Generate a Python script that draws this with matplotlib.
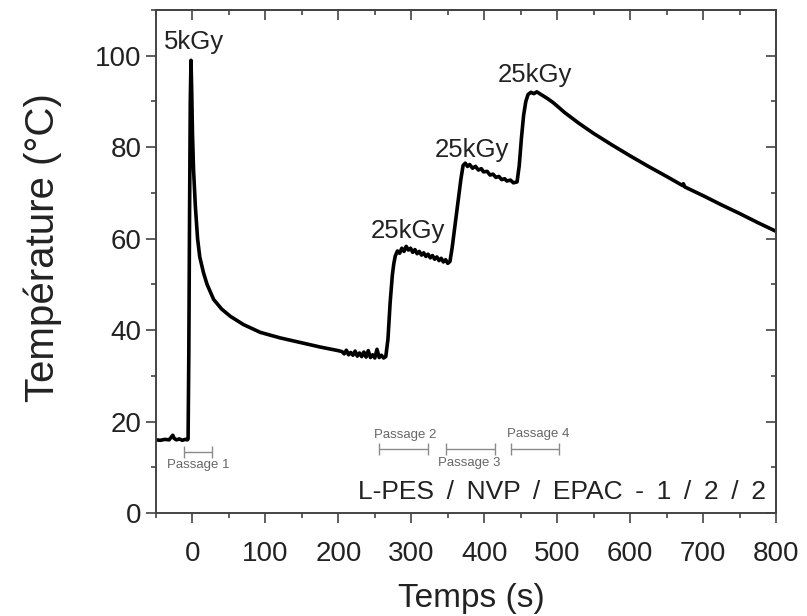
import matplotlib
matplotlib.use("Agg")
import matplotlib.pyplot as plt
from matplotlib.ticker import MultipleLocator

plt.rcParams['font.family'] = ['Liberation Sans', 'DejaVu Sans']

# Temperature record (s, °C)
time_s = [
    -50, -44, -38, -32, -29, -27, -25, -22, -18, -14, -10, -7, -6,
    -5, -4, -3, -2, -1, 0, 1.5, 4, 7, 10, 15, 20, 29, 40, 52, 70, 93,
    120, 150, 175, 200,
    205, 208, 211, 214, 217, 220, 223, 226, 229, 232, 235, 238, 241,
    244, 247, 250, 253, 256, 259, 262, 265,
    268, 271, 274, 276,
    278, 281, 284, 287, 290, 293, 296, 299, 302, 305, 308, 311, 314,
    317, 320, 323, 326, 329, 332, 335, 338, 341, 344, 347, 350, 353,
    356, 360, 364, 368,
    371, 374, 377, 380, 384, 388, 392, 396, 399, 404, 408, 412, 416,
    420, 424, 428, 431, 436, 440, 445,
    448, 451, 454, 457, 460,
    464, 468, 472, 477, 480, 487, 494, 500, 510, 530, 550, 575, 600,
    625, 650, 672, 673, 675, 700, 725, 750, 775, 800,
]
temp_c = [
    16.0, 15.9, 16.1, 16.0, 16.6, 17.0, 16.3, 16.0, 16.2, 15.9, 16.1, 16.0, 16.2,
    35.0, 65.0, 90.0, 99.0, 92.0, 83.0, 75.0, 67.0, 60.0, 56.0, 52.6, 50.0, 46.7, 44.6, 43.0, 41.2, 39.5,
    38.3, 37.2, 36.3, 35.5,
    35.3, 34.8, 35.6, 34.6, 35.1, 34.5, 35.4, 34.3, 35.0, 34.2, 35.2, 34.1, 35.5,
    34.0, 34.6, 33.9, 35.8, 34.0, 34.5, 33.9, 34.2,
    38.0, 46.0, 52.0, 54.5,
    56.2, 57.3, 56.8, 57.9, 57.2, 58.3, 57.5, 57.9, 57.0, 57.6, 56.7, 57.2, 56.4,
    56.9, 56.1, 56.6, 55.8, 56.3, 55.5, 56.0, 55.2, 55.7, 54.9, 55.4, 54.6, 55.0,
    58.0, 63.0, 68.0, 73.0,
    76.0, 76.5, 75.8, 76.2, 75.4, 75.8, 75.0, 75.3, 74.6, 74.7, 73.9, 74.1, 73.4,
    73.6, 72.9, 73.1, 72.6, 72.8, 72.2, 72.4,
    76.0, 82.0, 87.0, 90.0, 91.5,
    92.0, 91.7, 92.1, 91.6, 91.3, 90.6, 89.8, 89.0, 87.6, 85.2, 83.0, 80.5, 78.1,
    75.8, 73.6, 71.6, 72.0, 71.3, 69.4, 67.4, 65.5, 63.5, 61.6,
]

# Dose delivered at each pass
dose_labels = ['5kGy', '25kGy', '25kGy', '25kGy']
dose_x = [2, 295, 383, 470]
dose_y = [103, 61.6, 79.4, 95.8]

# Conveyor passes under the beam
pass_names = ['Passage 1', 'Passage 2', 'Passage 3', 'Passage 4']
pass_start = [-12, 256, 348, 437]
pass_end = [27, 323, 415, 503]
pass_bar_y = [13.4, 14.0, 14.0, 14.0]
pass_text_x = [8, 292, 380, 474]
pass_text_y = [10.5, 17.1, 11.0, 17.3]

sample_label = ' \u2009/ \u2009'.join(['L-PES', 'NVP', 'EPAC \u2009- \u20091', '2', '2'])

fig = plt.figure(figsize=(8.07, 6.16), dpi=100)
ax = fig.add_axes([0.1933, 0.1672, 0.9616 - 0.1933, 0.9838 - 0.1672])

ax.plot(time_s, temp_c, color='black', lw=2.6, solid_joinstyle='round')

for lab, x, y in zip(dose_labels, dose_x, dose_y):
    ax.text(x, y, lab, ha='center', va='center', fontsize=18.5, color='#222222')

for name, s, e, yb, tx, ty in zip(pass_names, pass_start, pass_end,
                                  pass_bar_y, pass_text_x, pass_text_y):
    mid = (s + e) / 2
    ax.errorbar([mid], [yb], xerr=[[mid - s], [e - mid]], fmt='none',
                ecolor='#8a8a8a', elinewidth=1.0, capsize=4, capthick=1.0)
    ax.text(tx, ty, name, ha='center', va='center', fontsize=9.5, color='#666666')

ax.text(786, 2.0, sample_label, ha='right', va='bottom',
        fontsize=19, color='#222222')

ax.set_xlim(-50, 800)
ax.set_ylim(0, 110)
ax.xaxis.set_major_locator(MultipleLocator(100))
ax.xaxis.set_minor_locator(MultipleLocator(50))
ax.yaxis.set_major_locator(MultipleLocator(20))
ax.yaxis.set_minor_locator(MultipleLocator(10))
ax.tick_params(which='major', direction='out', length=7, width=1.1,
               labelsize=20, colors='#333333', labelcolor='#222222')
ax.tick_params(axis='x', which='major', pad=13)
ax.tick_params(which='minor', direction='out', length=3.5, width=1.1,
               colors='#333333')
for sp in ax.spines.values():
    sp.set_linewidth(1.4)
    sp.set_color('#444444')

# Mirror ticks on top and right pointing inside the frame
top = ax.secondary_xaxis('top')
top.xaxis.set_major_locator(MultipleLocator(100))
top.xaxis.set_minor_locator(MultipleLocator(50))
top.tick_params(which='major', direction='in', length=7, width=1.1,
                labeltop=False, colors='#333333')
top.tick_params(which='minor', direction='in', length=3.5, width=1.1,
                colors='#333333')
right = ax.secondary_yaxis('right')
right.yaxis.set_major_locator(MultipleLocator(20))
right.yaxis.set_minor_locator(MultipleLocator(10))
right.tick_params(which='major', direction='in', length=7, width=1.1,
                  labelright=False, colors='#333333')
right.tick_params(which='minor', direction='in', length=3.5, width=1.1,
                  colors='#333333')
for sec in (top, right):
    for sp in sec.spines.values():
        sp.set_linewidth(1.4)
        sp.set_color('#444444')

ax.set_xlabel('Temps (s)', fontsize=24, color='#222222')
ax.xaxis.set_label_coords(0.508, -0.139)
ax.set_ylabel('Température (°C)', fontsize=29, color='#222222')
ax.yaxis.set_label_coords(-0.151, 0.527)

fig.savefig('out.png', dpi=100)
